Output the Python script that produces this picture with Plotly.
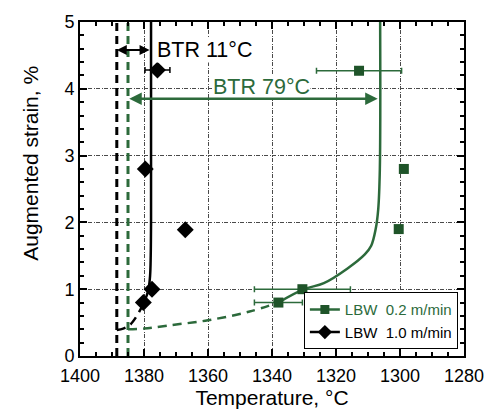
import plotly.graph_objects as go

# ---------------- data ----------------
x_tick_vals = [1400, 1380, 1360, 1340, 1320, 1300, 1280]
y_tick_vals = [0, 1, 2, 3, 4, 5]

# LBW 0.2 m/min measured points
g_temp = [1312.8, 1330.5, 1338.0, 1300.4, 1298.8]
g_strain = [4.27, 1.00, 0.80, 1.90, 2.80]
g_err = [13.3, 15.0, 7.5, 0, 0]

# LBW 1.0 m/min measured points
b_temp = [1375.8, 1379.6, 1367.1, 1377.5, 1380.2]
b_strain = [4.28, 2.80, 1.89, 1.00, 0.80]
b_err = [3.9, 0, 0, 0, 0]

# fitted curves
g_fit_t = [1338.0, 1330.0, 1323.8, 1316.4, 1311.0, 1309.0, 1307.6, 1306.8, 1306.3, 1306.2]
g_fit_s = [0.80, 1.00, 1.09, 1.31, 1.52, 1.65, 1.90, 2.20, 2.80, 5.00]
g_ext_t = [1385.0, 1380.0, 1372.8, 1360.0, 1347.0, 1338.0]
g_ext_s = [0.40, 0.41, 0.455, 0.535, 0.665, 0.80]

b_fit_t = [1380.2, 1379.2, 1378.6, 1378.1, 1377.9, 1377.8, 1377.8]
b_fit_s = [0.78, 0.90, 1.00, 1.20, 1.50, 2.00, 5.00]
b_ext_t = [1388.5, 1386.5, 1384.5, 1382.5, 1380.2]
b_ext_s = [0.39, 0.41, 0.46, 0.58, 0.78]

# brittle temperature range limits
btr_b_lims = [1388.5, 1377.8]
btr_g_lims = [1385.0, 1306.2]
btr_b_label = "BTR 11°C"
btr_g_label = "BTR 79°C"
vline_strain = [0, 5]

GREEN = "#2c6a3b"
GREEN_M = "#1f5429"
FONT = "Liberation Sans, Arial, sans-serif"

fig = go.Figure()

# vertical dashed lines (nil-strength limits)
fig.add_trace(go.Scatter(x=[btr_b_lims[0]] * 2, y=vline_strain, mode="lines",
                         line=dict(color="black", width=3, dash="8px,5px"), showlegend=False))
fig.add_trace(go.Scatter(x=[btr_g_lims[0]] * 2, y=vline_strain, mode="lines",
                         line=dict(color=GREEN, width=3, dash="8px,5px"), showlegend=False))

# curves
fig.add_trace(go.Scatter(x=g_ext_t, y=g_ext_s, mode="lines", line_shape="spline",
                         line=dict(color=GREEN, width=2.5, dash="9px,6px"), showlegend=False))
fig.add_trace(go.Scatter(x=g_fit_t, y=g_fit_s, mode="lines", line_shape="spline",
                         line=dict(color=GREEN, width=2.5), showlegend=False))
fig.add_trace(go.Scatter(x=b_ext_t, y=b_ext_s, mode="lines", line_shape="spline",
                         line=dict(color="black", width=2.5, dash="9px,6px"), showlegend=False))
fig.add_trace(go.Scatter(x=b_fit_t, y=b_fit_s, mode="lines", line_shape="spline",
                         line=dict(color="black", width=2.5), showlegend=False))

# markers with error bars
fig.add_trace(go.Scatter(x=g_temp, y=g_strain, mode="markers",
                         marker=dict(symbol="square", size=10, color=GREEN_M),
                         error_x=dict(type="data", array=g_err, color=GREEN, thickness=1.5, width=3),
                         showlegend=False))
fig.add_trace(go.Scatter(x=b_temp, y=b_strain, mode="markers",
                         marker=dict(symbol="diamond", size=13, color="black"),
                         error_x=dict(type="data", array=b_err, color="black", thickness=1.5, width=3),
                         showlegend=False))

# legend entries
fig.add_trace(go.Scatter(x=[None], y=[None], mode="lines+markers",
                         name="<span style='color:%s'>LBW\u00a0 0.2 m/min</span>" % GREEN,
                         line=dict(color=GREEN, width=2.5),
                         marker=dict(symbol="square", size=9, color=GREEN_M)))
fig.add_trace(go.Scatter(x=[None], y=[None], mode="lines+markers",
                         name="LBW\u00a0 1.0 m/min",
                         line=dict(color="black", width=2.5),
                         marker=dict(symbol="diamond", size=11, color="black")))

# mirrored axes (top / right) to carry minor ticks
fig.add_trace(go.Scatter(x=[None], y=[None], xaxis="x2", yaxis="y2", showlegend=False,
                         hoverinfo="skip"))

# BTR labels (drawn first so the arrows sit on top of their white boxes)
fig.add_annotation(x=1376.4, y=4.58, xref="x", yref="y", text=btr_b_label, showarrow=False,
                   xanchor="left", yanchor="middle", bgcolor="white", borderpad=0,
                   font=dict(size=21.5, color="black", family=FONT))
fig.add_annotation(x=1358.6, y=4.03, xref="x", yref="y", text=btr_g_label, showarrow=False,
                   xanchor="left", yanchor="middle", bgcolor="white", borderpad=0,
                   font=dict(size=21.5, color=GREEN, family=FONT))

# BTR arrows
fig.add_annotation(x=btr_b_lims[0], y=4.58, ax=btr_b_lims[1], ay=4.58, xref="x", yref="y",
                   axref="x", ayref="y", text="", showarrow=True, arrowside="end+start",
                   arrowhead=2, arrowsize=1, arrowwidth=2, arrowcolor="black", standoff=0, startstandoff=0)
fig.add_annotation(x=btr_g_lims[0] - 0.4, y=3.85, ax=btr_g_lims[1] + 0.3, ay=3.85, xref="x", yref="y",
                   axref="x", ayref="y", text="", showarrow=True, arrowside="end+start",
                   arrowhead=2, arrowsize=1, arrowwidth=2.5, arrowcolor=GREEN, standoff=0, startstandoff=0)

# y title as rotated annotation
fig.add_annotation(x=-0.128, y=0.578, xref="paper", yref="paper", text="Augmented strain, %",
                   textangle=-90, showarrow=False, xanchor="center", yanchor="middle",
                   font=dict(size=21, color="black", family=FONT))

axis_common = dict(
    showline=True, linecolor="black", linewidth=2, mirror=True,
    ticks="inside", ticklen=7, tickwidth=1.5, tickcolor="black",
    showgrid=True, gridcolor="#4a4a4a", gridwidth=1.3, griddash="4px,1.5px,1px,1.5px",
    zeroline=False, tickfont=dict(size=18, color="black", family=FONT),
)

fig.update_xaxes(range=[1400, 1280], tickvals=x_tick_vals, ticklabelstandoff=2,
                 minor=dict(dtick=5, ticks="inside", ticklen=4, tickcolor="black", showgrid=False),
                 title=dict(text="Temperature, °C", font=dict(size=21, color="black", family=FONT), standoff=4),
                 **axis_common)
fig.update_yaxes(range=[0, 5], tickvals=y_tick_vals,
                 minor=dict(dtick=0.2, ticks="inside", ticklen=4, tickcolor="black", showgrid=False),
                 **axis_common)

mirror_common = dict(showline=False, showgrid=False, zeroline=False, showticklabels=False,
                     ticks="inside", ticklen=7, tickwidth=1.5, tickcolor="black")

fig.update_layout(
    width=497, height=416, autosize=False,
    margin=dict(l=80, r=33, t=16, b=59),
    paper_bgcolor="white", plot_bgcolor="white",
    font=dict(family=FONT, color="black"),
    xaxis2=dict(overlaying="x", side="top", range=[1400, 1280], tickvals=x_tick_vals,
                minor=dict(dtick=5, ticks="inside", ticklen=4, tickcolor="black"),
                **mirror_common),
    yaxis2=dict(overlaying="y", side="right", range=[0, 5], tickvals=y_tick_vals,
                minor=dict(dtick=0.2, ticks="inside", ticklen=4, tickcolor="black"),
                **mirror_common),
    legend=dict(x=0.583, y=0.02, xanchor="left", yanchor="bottom", bgcolor="white",
                bordercolor="black", borderwidth=1, font=dict(size=15, family=FONT, color="black"),
                tracegroupgap=0, itemwidth=30),
)

fig.write_html("out.html", config={"displayModeBar": False},
               post_script="document.body.style.margin='0';")
